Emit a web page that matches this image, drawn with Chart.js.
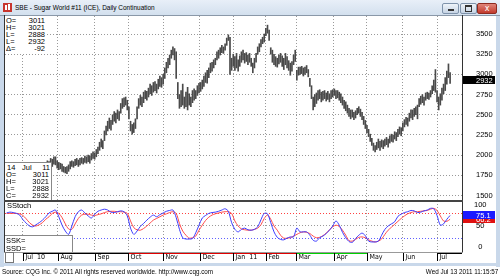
<!DOCTYPE html>
<html>
<head>
<meta charset="utf-8">
<script src="https://cdn.jsdelivr.net/npm/chart.js@4.4.1/dist/chart.umd.min.js"></script>
<style>
  body { margin: 0; background: #fff; }
  #win { position: relative; width: 500px; height: 276px; overflow: hidden; background: #fff;
         font-family: "Liberation Sans", Arial, sans-serif; font-size: 7.5px; color: #000; }
  #win div { position: absolute; }
  #title { left: 0; top: 0; width: 500px; height: 15px; background: linear-gradient(#e8eff8, #d3e0ee); }
  #icon { left: 3px; top: 3px; width: 9px; height: 9px; background: #c8352d; }
  #titleText { left: 15px; top: 3px; white-space: nowrap; line-height: 9px; font-size: 7.8px; transform: scaleX(0.83); transform-origin: 0 0; }
  .btn { top: 3px; height: 9px; border: 1px solid #7f93ab; border-radius: 2px; background: linear-gradient(#eef3f9, #c6d4e4); }
  .frame { background: #c9d8ea; }
  .line { background: #333; }
  .box { background: #fff; }
  .row { height: 7px; line-height: 7px; white-space: nowrap; color: #000; }
  #footer { left: 2px; top: 267px; white-space: nowrap; line-height: 9px; transform: scaleX(0.84); transform-origin: 0 0; }
  #stamp { right: 2px; top: 267px; white-space: nowrap; line-height: 9px; transform: scaleX(0.84); transform-origin: 100% 0; }
  canvas { position: absolute; left: 0; }
</style>
</head>
<body>
<div id="win">
  <div id="title"></div>
  <div id="icon"><div style="left:2px;top:2px;width:2px;height:5px;background:#fff"></div><div style="left:5px;top:1px;width:2px;height:6px;background:#fff"></div></div>
  <div id="titleText">SBE - Sugar World #11 (ICE), Daily Continuation</div>
  <div class="btn" style="left:442px;width:15px"><div style="left:5px;top:5px;width:6px;height:2px;background:#333"></div></div>
  <div class="btn" style="left:460px;width:15px"><div style="left:4px;top:1px;width:5px;height:4px;border:1px solid #333;border-top-width:2px"></div></div>
  <div class="btn" style="left:477px;width:18px;background:linear-gradient(#e0857a,#c23a2c);border-color:#8d2a20;color:#fff;font-family:'DejaVu Sans';font-size:8px;line-height:9px;text-align:center">x</div>

  <div class="frame" style="left:0;top:15px;width:4px;height:252px"></div>
  <div class="frame" style="left:496px;top:15px;width:4px;height:252px"></div>
  <div class="frame" style="left:0;top:263px;width:500px;height:3px"></div>
  <div style="left:0;top:15px;width:500px;height:1px;background:#8a98a8"></div>

  <canvas id="priceChart" width="500" height="186" style="top:15px"></canvas>
  <canvas id="stochChart" width="500" height="62" style="top:201px"></canvas>

  <div class="line" style="left:4px;top:15px;width:1px;height:238px"></div>
  <div class="line" style="left:462px;top:15px;width:1px;height:238px"></div>
  <div style="left:4px;top:200px;width:459px;height:2px;background:#444"></div>
  <div style="left:4px;top:252px;width:459px;height:1px;background:#999"></div>

  <div class="box" id="box1" style="left:5px;top:16px;width:42px;height:38px"></div>
  <div class="box" id="box2" style="left:5px;top:162px;width:46px;height:37px;border-top:1px solid #888;border-right:1px solid #888"></div>
  <div style="left:7px;top:202px;line-height:7px">SStoch</div>
  <div class="box" id="box3" style="left:5px;top:235px;width:67px;height:16px;border-top:1px solid #888;border-right:1px solid #888">
    <div class="row" style="left:1px;top:1px">SSK=</div>
    <div class="row" style="left:1px;top:9px">SSD=</div>
  </div>
  <div style="left:5px;top:252px;width:7px;height:9px;border:1px solid #777;background:#fff"></div>

  <div id="footer">Source: CQG Inc. © 2011 All rights reserved worldwide. http://www.cqg.com</div>
  <div id="stamp">Wed Jul 13 2011 11:15:57</div>
</div>

<script>
// daily bars, first one sits at day index FIRST_DAY (0 = 1 Jul 2010)
const FIRST_DAY = -11;
const priceLow = [
  1640,1660,1700,1690,1720,1700,1680,1710,1730,1700,1720,
  1730,1760,1750,1780,1800,1770,1790,1820,1800,1830,
  1810,1790,1820,1840,1830,1860,1850,1880,1860,1890,
  1880,1840,1820,1830,1800,1790,1780,1770,1800,1830,
  1860,1850,1870,1880,1860,1880,1900,1890,1910,1900,
  1920,1900,1940,1960,1950,1980,2020,2060,2100,2080,
  2180,2250,2300,2330,2310,2380,2420,2400,2450,2430,
  2520,2580,2600,2620,2560,2450,2300,2260,2280,2330,
  2450,2580,2620,2600,2650,2700,2680,2720,2760,2740,
  2780,2800,2770,2820,2850,2840,2880,2950,3020,3080,
  3120,3200,3240,3180,2950,2700,2580,2600,2620,2580,
  2600,2560,2620,2600,2650,2680,2700,2740,2770,2790,
  2820,2850,2900,2890,2960,3020,3040,3080,3120,3180,
  3200,3240,3270,3260,3300,3360,3420,3000,3050,3100,
  3050,3080,3040,3100,3150,3180,3140,3160,3120,3150,
  3100,3020,3080,3150,3250,3280,3340,3380,3400,3480,
  3510,3420,3250,3150,3120,3100,3090,3130,3150,3100,
  3060,3120,3080,3050,2990,3040,3120,3160,2930,2990,
  3000,3010,2980,3000,3020,2970,2850,2700,2560,2600,
  2640,2680,2700,2660,2680,2700,2670,2690,2660,2700,
  2720,2740,2700,2710,2680,2650,2620,2580,2550,2520,
  2480,2450,2470,2440,2460,2500,2520,2480,2440,2380,
  2330,2280,2230,2170,2120,2060,2040,2070,2090,2060,
  2100,2080,2110,2130,2100,2150,2170,2160,2200,2180,
  2230,2260,2240,2300,2350,2380,2360,2420,2460,2440,
  2480,2500,2450,2600,2630,2650,2620,2680,2700,2690,
  2720,2760,2800,2780,2660,2560,2620,2680,2760,2800,2880,2960,2888
];
const priceHigh = [
  1720,1750,1780,1770,1790,1780,1760,1790,1810,1780,1800,
  1810,1840,1830,1860,1880,1850,1870,1900,1880,1900,
  1890,1870,1900,1910,1900,1930,1920,1960,1950,1980,
  1980,1930,1910,1900,1890,1860,1850,1860,1880,1920,
  1930,1920,1950,1960,1940,1960,1970,1960,1990,1980,
  2000,1990,2020,2040,2030,2070,2100,2160,2200,2180,
  2300,2360,2420,2460,2430,2500,2540,2520,2560,2540,
  2640,2700,2710,2720,2680,2600,2420,2380,2400,2450,
  2600,2700,2740,2720,2780,2800,2790,2830,2880,2860,
  2900,2910,2880,2940,2980,2960,3000,3080,3150,3200,
  3240,3300,3340,3320,3280,2900,2750,2800,2880,2720,
  2780,2840,2760,2720,2800,2820,2800,2860,2890,2900,
  2930,2980,3020,3050,3080,3140,3150,3180,3200,3280,
  3300,3330,3360,3340,3380,3450,3490,3460,3200,3250,
  3220,3260,3180,3230,3280,3300,3260,3270,3240,3260,
  3200,3140,3200,3260,3340,3380,3430,3460,3500,3570,
  3610,3550,3330,3300,3250,3220,3200,3240,3260,3230,
  3200,3260,3220,3170,3140,3160,3240,3300,3050,3090,
  3090,3100,3080,3090,3110,3060,2950,2860,2720,2750,
  2770,2800,2810,2780,2790,2800,2770,2790,2760,2800,
  2810,2820,2800,2800,2780,2760,2720,2680,2660,2620,
  2580,2560,2560,2530,2550,2580,2600,2570,2530,2480,
  2430,2370,2320,2260,2210,2150,2120,2160,2200,2170,
  2190,2180,2200,2220,2200,2240,2260,2250,2290,2280,
  2320,2350,2340,2400,2440,2470,2460,2520,2560,2560,
  2580,2600,2620,2700,2730,2750,2720,2770,2780,2770,
  2800,2860,2930,3060,2800,2720,2760,2830,2880,2960,3040,3130,3021
];

// slow stochastic, read every second day starting at STOCH_FIRST_DAY
const STOCH_FIRST_DAY = -10;
const STOCH_STEP = 2;
const ssk = [
  81,83,82,80,76,65,57,50,48,53,
  58,64,72,81,85,88,72,52,38,30,
  50,72,84,88,81,74,69,78,85,88,
  90,88,83,82,84,86,84,74,45,30,
  38,49,56,64,71,76,72,77,81,85,
  87,88,70,42,22,19,19,20,34,52,
  69,75,80,82,83,85,88,91,85,58,
  42,36,42,45,41,40,42,48,65,80,
  79,58,36,23,18,17,21,24,24,45,
  36,36,36,28,16,14,22,26,32,40,
  50,62,52,35,22,13,11,20,28,33,
  27,14,12,12,14,28,42,50,55,60,
  73,78,82,84,87,86,82,83,86,88,
  92,91,75,52,55,66,75.1
];
const ssd = [
  80,80,80,80,79,75,67,58,52,50,
  53,58,66,72,80,83,80,70,55,43,
  42,55,68,76,78,78,76,75,77,79,
  82,84,85,85,84,84,83,80,62,46,
  41,40,44,50,57,64,68,72,76,79,
  82,84,80,56,38,28,21,22,26,40,
  52,63,71,76,79,81,83,84,84,80,
  62,50,43,41,40,40,42,45,53,68,
  76,66,50,40,28,21,21,22,26,30,
  34,36,35,32,26,22,23,27,33,41,
  48,52,49,40,28,15,14,18,23,24,
  22,17,14,12,14,19,30,40,47,54,
  61,68,74,79,82,84,84,85,86,87,
  90,92,87,74,62,61,66.2
];

const monthPos = [0, 21.5, 44, 64.5, 86, 108.5, 129, 149, 167.5, 190.5, 211, 233, 254];
const monthLabels = ['Jul  10', 'Aug', 'Sep', 'Oct', 'Nov', 'Dec', 'Jan  11', 'Feb', 'Mar', 'Apr', 'May', 'Jun', 'Jul'];
const priceTicks = [1500, 1750, 2000, 2250, 2500, 2750, 3000, 3250, 3500];
const stochTicks = [0, 20, 50, 80, 100];
// contract roll bar under the date axis: [from day, to day, colour]
const contractSegs = [[0, 64.5, '#000'], [64.5, 167.5, '#e00000'], [167.5, 211, '#00d000'], [254, 269.3, '#000']];
const lastBar = { date: ['14', 'Jul', '11'], open: 3011, high: 3021, low: 2888, close: 2932, change: -92 };

const X_MIN = -11, X_MAX = 269.3;

// info boxes
function row(parent, label, value, top, right) {
  const d = document.createElement('div');
  d.className = 'row';
  d.style.left = '1px'; d.style.top = top + 'px'; d.style.width = (right - 1) + 'px';
  d.innerHTML = '<div style="left:0">' + label + '</div><div style="right:0">' + value + '</div>';
  parent.appendChild(d);
}
const b1 = document.getElementById('box1');
[['O=', lastBar.open], ['H=', lastBar.high], ['L=', lastBar.low], ['L=', lastBar.close], ['&Delta;=', lastBar.change]]
  .forEach((r, i) => row(b1, r[0], r[1], 1 + i * 7, 40));
const b2 = document.getElementById('box2');
const dd = document.createElement('div');
dd.className = 'row'; dd.style.left = '1px'; dd.style.top = '1px'; dd.style.width = '44px';
dd.innerHTML = '<div style="left:1px;color:#000">' + lastBar.date[0] + '</div><div style="left:16px;color:#000">' + lastBar.date[1] +
  '</div><div style="right:0;color:#000">' + lastBar.date[2] + '</div>';
b2.appendChild(dd);
[['O=', lastBar.open], ['H=', lastBar.high], ['L=', lastBar.low], ['C=', lastBar.close]]
  .forEach((r, i) => row(b2, r[0], r[1], 8 + i * 7, 44));

Chart.defaults.font.family = '"Liberation Sans", Arial, sans-serif';
Chart.defaults.color = '#000';
Chart.defaults.animation = false;

// fixed axis width and no label overhang, so the plot keeps the full panel height
const fixRight = s => { s.width = 38; s.paddingTop = 0; s.paddingBottom = 0; };
const noHeight = s => { s.height = 0; };
const monthTicks = s => { s.ticks = monthPos.map(v => ({ value: v })); };

const lastLabels = {
  id: 'lastLabels',
  afterDraw(chart, args, opts) {
    const { ctx, chartArea } = chart;
    const y = chart.scales.y;
    ctx.save();
    ctx.font = '7.5px "Liberation Sans"';
    ctx.textBaseline = 'middle';
    opts.items.forEach(it => {
      const py = Math.round(y.getPixelForValue(it.value));
      ctx.fillStyle = it.bg;
      ctx.fillRect(chartArea.right, py - 4, 33, 8);
      ctx.fillStyle = '#fff';
      ctx.fillText(it.text, chartArea.right + 14, py + 0.5);
    });
    ctx.restore();
  }
};

const dateAxis = {
  id: 'dateAxis',
  afterDraw(chart) {
    const { ctx, chartArea } = chart;
    const x = chart.scales.x;
    const y0 = chartArea.bottom;
    ctx.save();
    contractSegs.forEach(s => {
      ctx.fillStyle = s[2];
      const a = x.getPixelForValue(s[0]), b = Math.min(x.getPixelForValue(s[1]), chartArea.right);
      ctx.fillRect(a, y0, b - a, 2);
    });
    ctx.font = '7px "DejaVu Sans Condensed", "Liberation Sans"';
    ctx.textBaseline = 'middle';
    ctx.fillStyle = '#000';
    ctx.strokeStyle = '#000';
    ctx.lineWidth = 1;
    monthPos.forEach((v, i) => {
      const px = Math.round(x.getPixelForValue(v)) + 0.5;
      ctx.beginPath(); ctx.moveTo(px, y0 + 1); ctx.lineTo(px, y0 + 9); ctx.stroke();
      ctx.fillText(monthLabels[i], px + 2, y0 + 5.5);
    });
    ctx.restore();
  }
};

const bars = priceLow.map((lo, i) => ({ x: FIRST_DAY + i, y: [lo, priceHigh[i]] }));

new Chart(document.getElementById('priceChart'), {
  type: 'bar',
  data: { datasets: [{ data: bars, backgroundColor: '#4a4a4a', borderWidth: 0, barThickness: 1 }] },
  options: {
    responsive: false,
    layout: { autoPadding: false, padding: { left: 5, top: 1, right: 0, bottom: 1 } },
    plugins: {
      legend: { display: false }, tooltip: { enabled: false },
      lastLabels: { items: [{ value: lastBar.close, text: String(lastBar.close), bg: '#000' }] }
    },
    scales: {
      x: {
        type: 'linear', min: X_MIN, max: X_MAX, offset: false,
        afterBuildTicks: monthTicks, afterFit: noHeight,
        ticks: { display: false },
        grid: { color: '#999', drawTicks: false, offset: false },
        border: { display: false, dash: [1, 2] }
      },
      y: {
        position: 'right', min: 1445, max: 3723,
        afterBuildTicks: s => { s.ticks = priceTicks.map(v => ({ value: v })); },
        afterFit: fixRight,
        ticks: { font: { size: 7.5 }, padding: 14, crossAlign: 'near', callback: v => String(v) },
        grid: { color: '#999', drawTicks: false },
        border: { display: false, dash: [1, 2] }
      }
    }
  },
  plugins: [lastLabels]
});

const kPts = ssk.map((v, i) => ({ x: STOCH_FIRST_DAY + i * STOCH_STEP, y: v }));
const dPts = ssd.map((v, i) => ({ x: STOCH_FIRST_DAY + i * STOCH_STEP, y: v }));

new Chart(document.getElementById('stochChart'), {
  type: 'line',
  data: {
    datasets: [
      { data: kPts, borderColor: '#3c3cff', borderWidth: 1, pointRadius: 0, tension: 0.3 },
      { data: dPts, borderColor: '#ff4a4a', borderWidth: 1, pointRadius: 0, tension: 0.3 }
    ]
  },
  options: {
    responsive: false,
    layout: { autoPadding: false, padding: { left: 5, top: 0, right: 0, bottom: 11 } },
    plugins: {
      legend: { display: false }, tooltip: { enabled: false },
      lastLabels: {
        items: [
          { value: ssd[ssd.length - 1], text: ssd[ssd.length - 1].toFixed(1), bg: '#e01010' },
          { value: ssk[ssk.length - 1], text: ssk[ssk.length - 1].toFixed(1), bg: '#1a1aff' }
        ]
      }
    },
    scales: {
      x: {
        type: 'linear', min: X_MIN, max: X_MAX,
        afterBuildTicks: monthTicks, afterFit: noHeight,
        ticks: { display: false },
        grid: { color: '#999', drawTicks: false },
        border: { display: false, dash: [1, 2] }
      },
      y: {
        position: 'right', min: -11.9, max: 109.5,
        afterBuildTicks: s => { s.ticks = stochTicks.map(v => ({ value: v })); },
        afterFit: fixRight,
        ticks: {
          font: { size: 7.5 }, padding: 12, crossAlign: 'center',
          callback: v => (v === 20 || v === 80) ? '' : String(v)
        },
        grid: {
          drawTicks: false,
          color: c => c.tick.value === 80 ? '#ff4040' : c.tick.value === 20 ? '#6060ff' : c.tick.value === 50 ? '#999' : 'rgba(0,0,0,0)'
        },
        border: { display: false, dash: [1, 2] }
      }
    }
  },
  plugins: [lastLabels, dateAxis]
});
</script>
</body>
</html>
